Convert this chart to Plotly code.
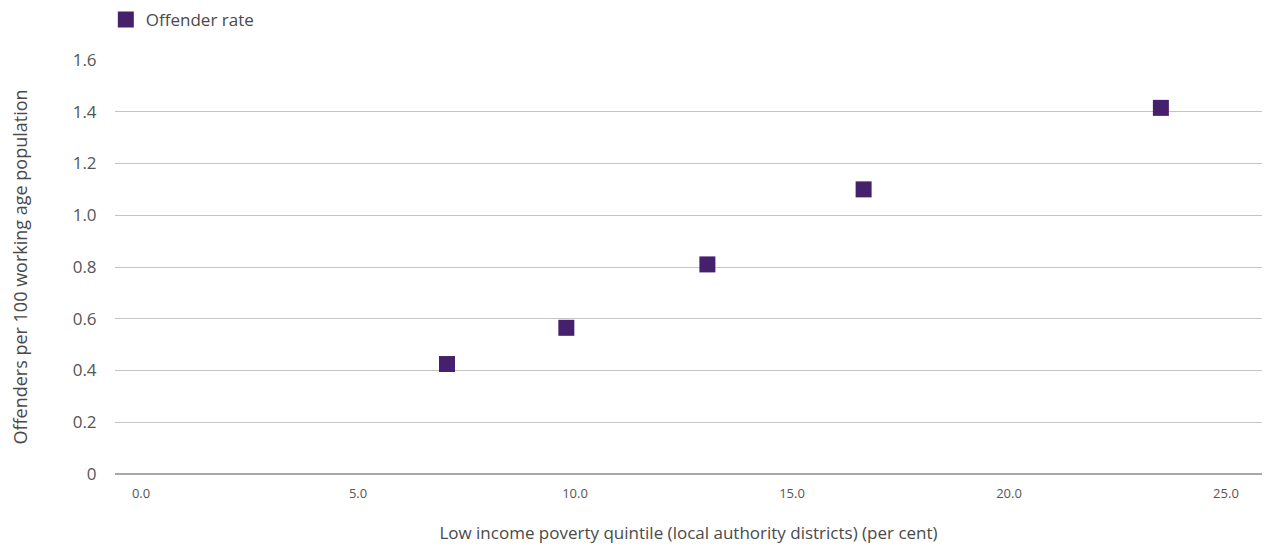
import plotly.graph_objects as go

poverty_pct = [7.05, 9.8, 13.05, 16.65, 23.5]
offender_rate = [0.425, 0.565, 0.81, 1.10, 1.415]
x_ticks = [0, 5, 10, 15, 20, 25]
x_tick_labels = ["0.0", "5.0", "10.0", "15.0", "20.0", "25.0"]
y_ticks = [0, 0.2, 0.4, 0.6, 0.8, 1.0, 1.2, 1.4, 1.6]
y_tick_labels = ["0", "0.2", "0.4", "0.6", "0.8", "1.0", "1.2", "1.4", "1.6"]

purple = "#45206d"
font_family = "'Open Sans', 'Noto Sans', sans-serif"

fig = go.Figure()
fig.add_trace(go.Scatter(
    x=poverty_pct, y=offender_rate, mode="markers", name="Offender rate",
    marker=dict(symbol="square", size=16, color=purple),
))

fig.update_layout(
    width=1264, height=548,
    margin=dict(l=115, r=2, t=60, b=74, autoexpand=False),
    paper_bgcolor="white", plot_bgcolor="white",
    font=dict(family=font_family, size=14, color="#555"),
    showlegend=True,
    legend=dict(orientation="h", x=-0.008, xanchor="left", y=1.097, yanchor="middle",
                font=dict(size=17, color="#4a4a4a"), itemsizing="trace"),
    xaxis=dict(
        range=[-0.6, 25.83], tickvals=x_ticks, ticktext=x_tick_labels,
        showgrid=False, zeroline=False, showline=False, automargin=False,
        ticks="outside", ticklen=7, tickcolor="rgba(0,0,0,0)",
        tickfont=dict(size=13, color="#555"),
        title=dict(text="Low income poverty quintile (local authority districts) (per cent)",
                   font=dict(size=17, color="#4a4a4a"), standoff=26),
    ),
    yaxis=dict(
        range=[0, 1.6], tickvals=y_ticks, ticktext=y_tick_labels,
        showgrid=True, gridcolor="#c4c4c4", gridwidth=1,
        zeroline=True, zerolinecolor="#a8a8a8", zerolinewidth=1.5, automargin=False,
        ticks="outside", ticklen=14, tickcolor="rgba(0,0,0,0)",
        tickfont=dict(size=17, color="#555"),
        title=dict(text="Offenders per 100 working age population",
                   font=dict(size=18, color="#4a4a4a"), standoff=40),
    ),
)

fig.write_html("out.html", post_script="document.body.style.margin='0';",
               config={"displayModeBar": False})
